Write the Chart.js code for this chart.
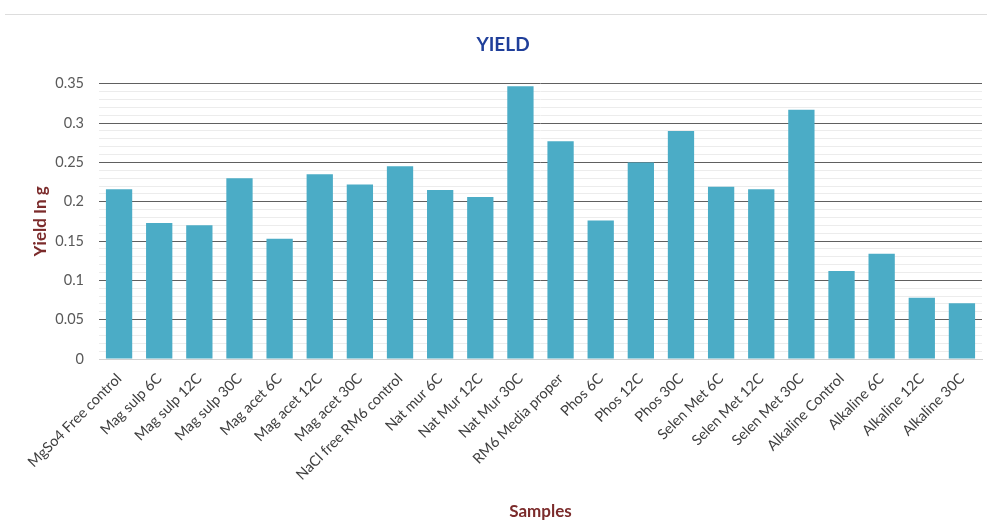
<!DOCTYPE html>
<html>
<head>
<meta charset="utf-8">
<script src="https://cdn.jsdelivr.net/npm/chart.js@4"></script>
<style>
  body { margin: 0; background: #fff; }
  #wrap { position: relative; width: 987px; height: 527px; }
  #topline { position: absolute; left: 5px; right: 0; top: 14px; border-top: 1px solid #ddd; }
</style>
</head>
<body>
<div id="wrap">
  <div id="topline"></div>
  <canvas id="yieldChart" width="987" height="527"></canvas>
</div>
<script>
// Data
const samples = [
    "MgSo4 Free control", "Mag sulp 6C", "Mag sulp 12C", "Mag sulp 30C",
    "Mag acet 6C", "Mag acet 12C", "Mag acet 30C", "NaCl free RM6 control",
    "Nat mur 6C", "Nat Mur 12C", "Nat Mur 30C", "RM6 Media proper",
    "Phos 6C", "Phos 12C", "Phos 30C", "Selen Met 6C", "Selen Met 12C",
    "Selen Met 30C", "Alkaline Control", "Alkaline 6C", "Alkaline 12C", "Alkaline 30C"
];
const yieldValues = [
    0.216, 0.173, 0.170, 0.230, 0.153, 0.235, 0.222, 0.245,
    0.215, 0.206, 0.347, 0.277, 0.176, 0.250, 0.290, 0.219,
    0.216, 0.317, 0.112, 0.134, 0.078, 0.071
];
const yTicks = [0, 0.05, 0.1, 0.15, 0.2, 0.25, 0.3, 0.35];

const font = "Lato, 'Open Sans', sans-serif";

function isMajor(v){
    return yTicks.some(t => Math.abs(t - v) < 1e-6);
}

// ----------------------------
// CHART
// ----------------------------
const ctx = document.getElementById("yieldChart").getContext("2d");

new Chart(ctx, {
    type: 'bar',
    data: {
        labels: samples,
        datasets: [{
            label: 'Yield',
            data: yieldValues,
            backgroundColor: '#4bacc6',
            barPercentage: 0.655,
            categoryPercentage: 1
        }]
    },
    options: {
        responsive: false,
        animation: false,
        layout: { padding: { left: 24, right: 5, top: 0, bottom: 0 } },
        plugins: {
            legend: { display: false },
            tooltip: { enabled: false },
            title: {
                display: true,
                text: 'YIELD',
                color: '#203f9a',
                font: { family: font, size: 19, weight: 'bold' },
                padding: { top: 33, bottom: 28 }
            }
        },
        scales: {
            x: {
                grid: { display: false },
                border: { color: '#d0d0d0' },
                afterFit: s => { s.height = 168; },
                ticks: {
                    color: '#404040',
                    font: { family: font, size: 14.5 },
                    maxRotation: 45,
                    minRotation: 45,
                    autoSkip: false
                },
                title: {
                    display: true,
                    text: 'Samples',
                    color: '#7b2b2b',
                    font: { family: font, size: 17, weight: 'bold' },
                    padding: { top: 0, bottom: 5 }
                }
            },
            y: {
                min: 0,
                max: 0.35,
                border: { display: false },
                afterFit: s => { s.width = 75; },
                grid: {
                    drawTicks: false,
                    color: c => isMajor(c.tick.value) ? '#606060' : '#ececec',
                    lineWidth: 1
                },
                ticks: {
                    stepSize: 0.01,
                    autoSkip: false,
                    padding: 15,
                    color: '#595959',
                    font: { family: font, size: 14.5 },
                    callback: v => isMajor(v) ? String(Math.round(v * 100) / 100) : ''
                },
                title: {
                    display: true,
                    text: 'Yield In g',
                    color: '#7b2b2b',
                    font: { family: font, size: 17, weight: 'bold' },
                    padding: { top: 6, bottom: 0 }
                }
            }
        }
    }
});
</script>
</body>
</html>
